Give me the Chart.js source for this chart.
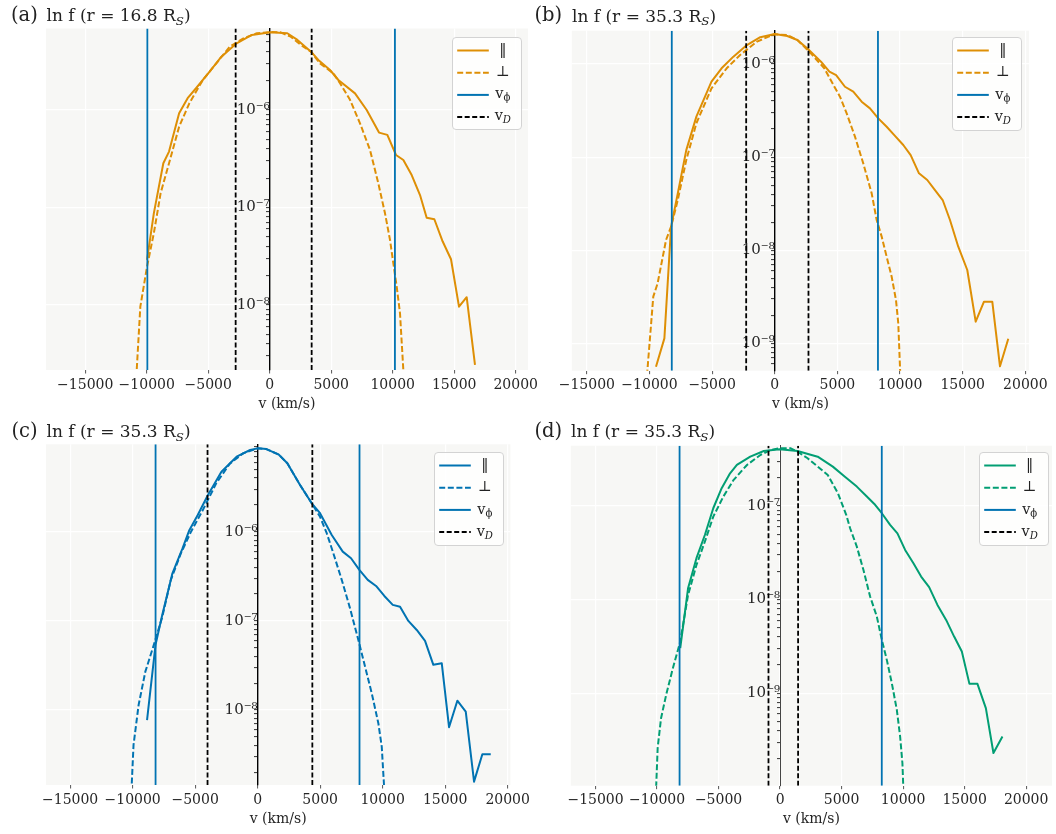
<!DOCTYPE html>
<html><head><meta charset="utf-8">
<script src="https://cdn.jsdelivr.net/npm/chart.js@4.4.1/dist/chart.umd.min.js"></script>
<style>
html,body{margin:0;padding:0;background:#fff;}
body{width:1056px;height:834px;position:relative;overflow:hidden;font-family:'DejaVu Serif',serif;color:#222;}
canvas{position:absolute;}
.ttl{position:absolute;line-height:1;white-space:nowrap;color:#222;}
.ttl sub,.lt sub{font-size:70%;vertical-align:baseline;position:relative;top:0.3em;line-height:0;}
.legend{position:absolute;box-sizing:border-box;border:1px solid #d3d3d3;border-radius:4px;background:rgba(255,255,255,0.8);}
.legend svg{position:absolute;left:0;top:0;}
.lt{position:absolute;line-height:1;font-size:14.5px;width:30px;text-align:center;white-space:nowrap;color:#222;}
</style>
</head><body>
<canvas id="cA" width="545" height="420" style="left:0px;top:0px"></canvas>
<canvas id="cB" width="528" height="420" style="left:528px;top:0px"></canvas>
<canvas id="cC" width="545" height="419" style="left:0px;top:415px"></canvas>
<canvas id="cD" width="528" height="419" style="left:528px;top:415px"></canvas>

<div class="ttl" style="left:11px;top:4.8px;font-size:19.5px">(a)</div>
<div class="ttl" style="left:46.5px;top:7.4px;font-size:17px">ln f (r = 16.8 R<sub><i>S</i></sub>)</div>
<div class="ttl" style="left:534.5px;top:5.3px;font-size:19.5px">(b)</div>
<div class="ttl" style="left:572px;top:7.9px;font-size:17px">ln f (r = 35.3 R<sub><i>S</i></sub>)</div>
<div class="ttl" style="left:11.5px;top:421px;font-size:19.5px">(c)</div>
<div class="ttl" style="left:46.5px;top:423.3px;font-size:17px">ln f (r = 35.3 R<sub><i>S</i></sub>)</div>
<div class="ttl" style="left:534.5px;top:421px;font-size:19.5px">(d)</div>
<div class="ttl" style="left:571px;top:423.3px;font-size:17px">ln f (r = 35.3 R<sub><i>S</i></sub>)</div>

<script>
// ---------------- data ----------------
const xTickValues = [-15000, -10000, -5000, 0, 5000, 10000, 15000, 20000];
const legendLabels = ['‖', '⊥', 'v<sub>ϕ</sub>', 'v<sub><i>D</i></sub>'];

// Panel (a): r = 16.8 R_S
const vParA = [-9975, -9423, -8650, -8187, -7366, -6675, -5992, -4886, -3927, -2691, -1455, 57, 1430, 2254, 3355, 3953, 4902, 5580, 6935, 7885, 8886, 9563, 10268, 10865, 11543, 12220, 12762, 13386, 14064, 14740, 15390, 16014, 16691];
const fParA = [2.9e-8, 8.7e-8, 2.84e-7, 3.74e-7, 9.25e-7, 1.32e-6, 1.67e-6, 2.47e-6, 3.52e-6, 4.83e-6, 5.88e-6, 6.26e-6, 6.12e-6, 5.23e-6, 3.96e-6, 3.26e-6, 2.57e-6, 2.03e-6, 1.48e-6, 1.0e-6, 5.86e-7, 5.55e-7, 3.45e-7, 3.07e-7, 2.15e-7, 1.34e-7, 7.85e-8, 7.57e-8, 4.47e-8, 2.94e-8, 9.6e-9, 1.2e-8, 2.43e-9];
const vPerpA = [-10850, -10520, -9975, -9423, -8870, -8187, -7366, -6537, -5439, -4341, -3244, -2138, -1041, 57, 878, 1707, 2530, 3355, 4090, 5171, 5715, 6528, 7341, 8154, 8829, 9374, 9780, 10051, 10325, 10593, 10900];
const fPerpA = [1.8e-9, 9.6e-9, 2.47e-8, 5.43e-8, 1.40e-7, 2.84e-7, 6.74e-7, 1.17e-6, 2.03e-6, 3.01e-6, 4.47e-6, 5.43e-6, 6.12e-6, 6.3e-6, 6.26e-6, 5.65e-6, 4.65e-6, 3.96e-6, 3.0e-6, 2.38e-6, 1.88e-6, 1.27e-6, 7.3e-7, 3.89e-7, 1.77e-7, 8.7e-8, 4.65e-8, 2.67e-8, 1.54e-8, 8.2e-9, 1.8e-9];
const vPhiA = [-9950, 10180];
const vDA = [-2770, 3410];
const xRangeA = [-18190, 21000];
const yRangeA = [2.15e-9, 6.85e-6];
const yDecadesA = [1e-8, 1e-7, 1e-6];

// Panel (b): r = 35.3 R_S
const vParB = [-9482, -8811, -8276, -7742, -7063, -6257, -5052, -4246, -3304, -2227, -1157, 0, 998, 1804, 2746, 3688, 4360, 4895, 5603, 6265, 6935, 7598, 8260, 8931, 9593, 10256, 10846, 11509, 12171, 12786, 13400, 13983, 14645, 15364, 16035, 16697, 17360, 17974, 18637];
const fParB = [5.6e-10, 1.13e-9, 1.79e-8, 4.08e-8, 1.19e-7, 2.72e-7, 6.46e-7, 9.0e-7, 1.2e-6, 1.6e-6, 1.94e-6, 2.1e-6, 2.0e-6, 1.81e-6, 1.41e-6, 1.06e-6, 8.27e-7, 7.6e-7, 5.7e-7, 5.05e-7, 3.94e-7, 3.34e-7, 2.61e-7, 2.12e-7, 1.69e-7, 1.35e-7, 1.05e-7, 6.7e-8, 5.68e-8, 4.43e-8, 3.46e-8, 2.11e-8, 1.09e-8, 6.13e-9, 1.71e-9, 2.8e-9, 2.8e-9, 5.67e-10, 1.12e-9];
const vPerpB = [-10200, -9697, -9354, -8676, -8276, -7742, -7063, -6257, -5052, -3839, -2769, -1421, -80, 998, 1804, 2881, 3952, 4757, 5204, 5738, 6401, 7063, 7734, 8133, 8532, 8931, 9330, 9673, 9857, 10020];
const fPerpB = [4.5e-10, 3.17e-9, 4.4e-9, 1.29e-8, 1.79e-8, 3.46e-8, 9.3e-8, 2.31e-7, 5.48e-7, 9.0e-7, 1.25e-6, 1.74e-6, 2.08e-6, 2.05e-6, 1.81e-6, 1.3e-6, 9.0e-7, 5.7e-7, 4.46e-7, 2.95e-7, 1.66e-7, 8.57e-8, 4.08e-8, 2.11e-8, 1.4e-8, 8.5e-9, 5.19e-9, 2.92e-9, 1.64e-9, 4.5e-10];
const vPhiB = [-8220, 8235];
const vDB = [-2283, 2690];
const xRangeB = [-16200, 20290];
const yRangeB = [5.08e-10, 2.28e-6];
const yDecadesB = [1e-9, 1e-8, 1e-7, 1e-6];

// Panel (c): r = 35.3 R_S
const vParC = [-8848, -8168, -7632, -6816, -6008, -5464, -4792, -3976, -2896, -1680, -600, 0, 700, 1700, 2376, 3392, 4328, 4992, 5928, 6808, 7472, 8136, 8808, 9472, 10136, 10808, 11392, 12056, 12728, 13392, 14056, 14728, 15312, 15976, 16648, 17312, 17976, 18648];
const fParC = [7.7e-9, 5.37e-8, 1.16e-7, 3.41e-7, 6.5e-7, 1.04e-6, 1.54e-6, 2.58e-6, 4.71e-6, 6.93e-6, 8.24e-6, 8.6e-6, 8.45e-6, 7.3e-6, 5.85e-6, 3.34e-6, 2.08e-6, 1.61e-6, 9.18e-7, 5.97e-7, 5.03e-7, 3.72e-7, 2.88e-7, 2.46e-7, 1.9e-7, 1.51e-7, 1.44e-7, 9.97e-8, 7.9e-8, 5.95e-8, 3.21e-8, 3.35e-8, 6.41e-9, 1.27e-8, 9.6e-9, 1.57e-9, 3.19e-9, 3.19e-9];
const vPerpC = [-10100, -9928, -9520, -8984, -8304, -7632, -6952, -6144, -5328, -4384, -3304, -2224, -1136, 0, 700, 1700, 2376, 3392, 4328, 4992, 5528, 6056, 6728, 7392, 8056, 8592, 9128, 9656, 9928, 10140];
const fPerpC = [1.2e-9, 4.06e-9, 1.14e-8, 2.69e-8, 5.37e-8, 1.1e-7, 2.85e-7, 5.7e-7, 1.0e-6, 1.75e-6, 3.5e-6, 5.8e-6, 7.6e-6, 8.6e-6, 8.45e-6, 7.3e-6, 5.85e-6, 3.34e-6, 2.08e-6, 1.47e-6, 9.6e-7, 5.73e-7, 2.88e-7, 1.38e-7, 6.1e-8, 3.07e-8, 1.54e-8, 7.1e-9, 3.89e-9, 1.2e-9];
const vPhiC = [-8165, 8150];
const vDC = [-4008, 4376];
const xRangeC = [-16930, 20220];
const yRangeC = [1.44e-9, 9.55e-6];
const yDecadesC = [1e-8, 1e-7, 1e-6];

// Panel (d): r = 35.3 R_S
const vParD = [-8114, -7480, -6797, -6114, -5431, -4748, -4065, -3512, -2423, -1325, -40, 1415, 3057, 4285, 5244, 6236, 7049, 7724, 8268, 8943, 9537, 10163, 10838, 11463, 12114, 12789, 13496, 14146, 14772, 15390, 16041, 16724, 17341, 18073];
const fParD = [3.03e-9, 1.32e-8, 2.77e-8, 4.9e-8, 9.45e-8, 1.55e-7, 2.23e-7, 2.74e-7, 3.36e-7, 3.86e-7, 4.03e-7, 3.86e-7, 3.36e-7, 2.63e-7, 2.06e-7, 1.61e-7, 1.26e-7, 1.03e-7, 8.36e-8, 6.27e-8, 5.1e-8, 3.39e-8, 2.44e-8, 1.76e-8, 1.36e-8, 8.77e-9, 6.07e-9, 4.03e-9, 2.79e-9, 1.26e-9, 1.26e-9, 6.93e-10, 2.3e-10, 3.45e-10];
const vPerpD = [-10100, -9951, -9675, -9260, -8715, -8114, -7480, -6797, -6114, -5431, -4610, -3789, -2691, -1602, -772, -40, 870, 1415, 2236, 3057, 3878, 4699, 5382, 5691, 6236, 6772, 7317, 7862, 8268, 8675, 9082, 9488, 9756, 9943, 10040];
const fPerpD = [8e-11, 2.6e-10, 5.42e-10, 9.6e-10, 1.85e-9, 3.56e-9, 1.12e-8, 2.34e-8, 4.16e-8, 7.69e-8, 1.26e-7, 1.89e-7, 2.74e-7, 3.5e-7, 3.96e-7, 4.13e-7, 4.13e-7, 3.8e-7, 3.23e-7, 2.63e-7, 2.14e-7, 1.37e-7, 8.0e-8, 5.78e-8, 3.68e-8, 2.08e-8, 1.08e-8, 6.6e-9, 3.72e-9, 2.27e-9, 1.28e-9, 6.65e-10, 3.45e-10, 1.79e-10, 8e-11];
const vPhiD = [-8170, 8265];
const vDD = [-943, 1463];
const xRangeD = [-17010, 22100];
const yRangeD = [1.03e-10, 4.4e-7];
const yDecadesD = [1e-9, 1e-8, 1e-7];

// ---------------- styles / layout ----------------
const ORANGE = '#de8f05', BLUE = '#0173b2', GREEN = '#029e73';
const PLOT_BG = '#f7f7f5';

const panels = [
  {id: 'cA', color: ORANGE, vPar: vParA, fPar: fParA, vPerp: vPerpA, fPerp: fPerpA, vPhi: vPhiA, vD: vDA,
   xRange: xRangeA, yRange: yRangeA, yDecades: yDecadesA, pad: {left: 46, top: 28.5, right: 17, bottom: 2},
   spine: {color: '#000', width: 1.4}, legend: {left: 452.3, top: 36.7, w: 69.4, h: 93.5}},
  {id: 'cB', color: ORANGE, vPar: vParB, fPar: fParB, vPerp: vPerpB, fPerp: fPerpB, vPhi: vPhiB, vD: vDB,
   xRange: xRangeB, yRange: yRangeB, yDecades: yDecadesB, pad: {left: 43.8, top: 30.7, right: 27, bottom: 1.3},
   spine: {color: '#000', width: 1.4}, legend: {left: 952.3, top: 37.3, w: 69.4, h: 93.5}},
  {id: 'cC', color: BLUE, vPar: vParC, fPar: fParC, vPerp: vPerpC, fPerp: fPerpC, vPhi: vPhiC, vD: vDC,
   xRange: xRangeC, yRange: yRangeC, yDecades: yDecadesC, pad: {left: 46, top: 29.3, right: 34.6, bottom: 1},
   spine: {color: '#000', width: 1.4}, legend: {left: 434.3, top: 452.3, w: 69.4, h: 93.5}},
  {id: 'cD', color: GREEN, vPar: vParD, fPar: fParD, vPerp: vPerpD, fPerp: fPerpD, vPhi: vPhiD, vD: vDD,
   xRange: xRangeD, yRange: yRangeD, yDecades: yDecadesD, pad: {left: 42.8, top: 30.7, right: 4, bottom: 0.3},
   spine: {color: '#444', width: 1}, legend: {left: 979.2, top: 452.3, w: 69.4, h: 93.5}}
];

// ---------------- helpers ----------------
Chart.defaults.font.family = "'DejaVu Serif', serif";
Chart.defaults.color = '#262626';

const bgPlugin = {
  id: 'plotBg',
  beforeDraw(chart) {
    const {ctx, chartArea: a} = chart;
    ctx.save();
    ctx.fillStyle = PLOT_BG;
    ctx.fillRect(a.left, a.top, a.right - a.left, a.bottom - a.top);
    ctx.restore();
  }
};

const SUP = {'-': '\u207B', '0': '\u2070', '1': '\u00B9', '2': '\u00B2', '3': '\u00B3', '4': '\u2074', '5': '\u2075', '6': '\u2076', '7': '\u2077', '8': '\u2078', '9': '\u2079'};
function pts(vs, fs) { return vs.map((v, i) => ({x: v, y: fs[i]})); }
function vline(v, yr) { return [{x: v, y: yr[0]}, {x: v, y: yr[1]}]; }
function isDecade(v) { const l = Math.log10(v); return Math.abs(l - Math.round(l)) < 1e-6; }
function decadeLabel(v) { const e = Math.round(Math.log10(v)); return '10' + String(e).split('').map(c => SUP[c]).join(''); }
function logTicks(yr) {
  const out = [];
  const e0 = Math.floor(Math.log10(yr[0])), e1 = Math.ceil(Math.log10(yr[1]));
  for (let e = e0; e <= e1; e++) {
    for (let m = 1; m <= 9; m++) {
      const v = m * Math.pow(10, e);
      if (v >= yr[0] && v <= yr[1]) out.push(v);
    }
  }
  return out;
}
function fmtX(v) { return v < 0 ? '\u2212' + Math.abs(v) : String(v); }

function makeLegend(P) {
  const L = P.legend;
  const box = document.createElement('div');
  box.className = 'legend';
  box.style.left = L.left + 'px'; box.style.top = L.top + 'px';
  box.style.width = L.w + 'px'; box.style.height = L.h + 'px';
  const rows = [12.5, 34.7, 56.9, 79.1];
  const styles = [
    {c: P.color, dash: null}, {c: P.color, dash: '6,2.6'}, {c: BLUE, dash: null}, {c: '#000', dash: '5,2.5'}
  ];
  let svg = '<svg width="' + L.w + '" height="' + L.h + '">';
  rows.forEach((y, i) => {
    svg += '<line x1="4.2" x2="35.8" y1="' + y + '" y2="' + y + '" stroke="' + styles[i].c + '" stroke-width="2"' +
      (styles[i].dash ? ' stroke-dasharray="' + styles[i].dash + '"' : '') + '/>';
  });
  svg += '</svg>';
  box.innerHTML = svg;
  rows.forEach((y, i) => {
    const t = document.createElement('div');
    t.className = 'lt';
    t.style.left = (50.5 - 15 - 1) + 'px';
    t.style.top = (y + 4.8 - 12.3 - 1) + 'px';
    t.innerHTML = legendLabels[i];
    box.appendChild(t);
  });
  document.body.appendChild(box);
}

function makePanel(P) {
  const yTicks = logTicks(P.yRange);
  const datasets = [
    {data: pts(P.vPar, P.fPar), borderColor: P.color, borderWidth: 2, order: 3},
    {data: pts(P.vPerp, P.fPerp), borderColor: P.color, borderWidth: 2, borderDash: [6, 2.6], order: 2}
  ];
  P.vPhi.forEach(v => datasets.push({data: vline(v, P.yRange), borderColor: BLUE, borderWidth: 1.8, order: 1}));
  P.vD.forEach(v => datasets.push({data: vline(v, P.yRange), borderColor: '#000', borderWidth: 1.8, borderDash: [5, 2.5], order: 0}));

  new Chart(document.getElementById(P.id), {
    type: 'line',
    data: {datasets},
    options: {
      responsive: false, animation: false, devicePixelRatio: 1,
      layout: {padding: P.pad},
      elements: {point: {radius: 0, hoverRadius: 0}, line: {tension: 0, borderJoinStyle: 'round', fill: false}},
      datasets: {line: {clip: 0, spanGaps: false}},
      plugins: {legend: {display: false}, tooltip: {enabled: false}},
      events: [],
      scales: {
        x: {
          type: 'linear', position: 'bottom', min: P.xRange[0], max: P.xRange[1],
          afterBuildTicks: s => { s.ticks = xTickValues.filter(v => v >= P.xRange[0] && v <= P.xRange[1]).map(v => ({value: v})); },
          afterFit: s => { s.height = 48; s.paddingLeft = 0; s.paddingRight = 0; },
          grid: {color: '#ffffff', lineWidth: 1.2, tickLength: 3.5, tickColor: '#555', tickWidth: 1},
          border: {display: false},
          ticks: {callback: v => fmtX(v), font: {size: 14}, color: '#262626', padding: 3, maxRotation: 0, autoSkip: false},
          title: {display: true, text: 'v (km/s)', font: {size: 14}, color: '#262626', padding: {top: 0, bottom: 5.6}}
        },
        y: {
          type: 'logarithmic', position: {x: 0}, min: P.yRange[0], max: P.yRange[1],
          afterBuildTicks: s => { s.ticks = yTicks.map(v => ({value: v, major: isDecade(v)})); },
          afterFit: s => { s.paddingTop = 0; s.paddingBottom = 0; s.paddingLeft = 0; s.paddingRight = 0; },
          grid: {
            color: c => (c.tick && isDecade(c.tick.value)) ? '#ffffff' : 'rgba(0,0,0,0)',
            lineWidth: 1.2, tickLength: 3, tickColor: '#333', tickWidth: 1
          },
          border: {display: true, color: P.spine.color, width: P.spine.width},
          ticks: {
            callback: v => (isDecade(v) && P.yDecades.some(d => Math.abs(Math.log10(d) - Math.log10(v)) < 1e-6)) ? decadeLabel(v) : '',
            font: {size: 15}, color: '#262626', padding: 8, autoSkip: false
          }
        }
      }
    },
    plugins: [bgPlugin]
  });
  makeLegend(P);
}

panels.forEach(makePanel);
</script>
</body></html>
